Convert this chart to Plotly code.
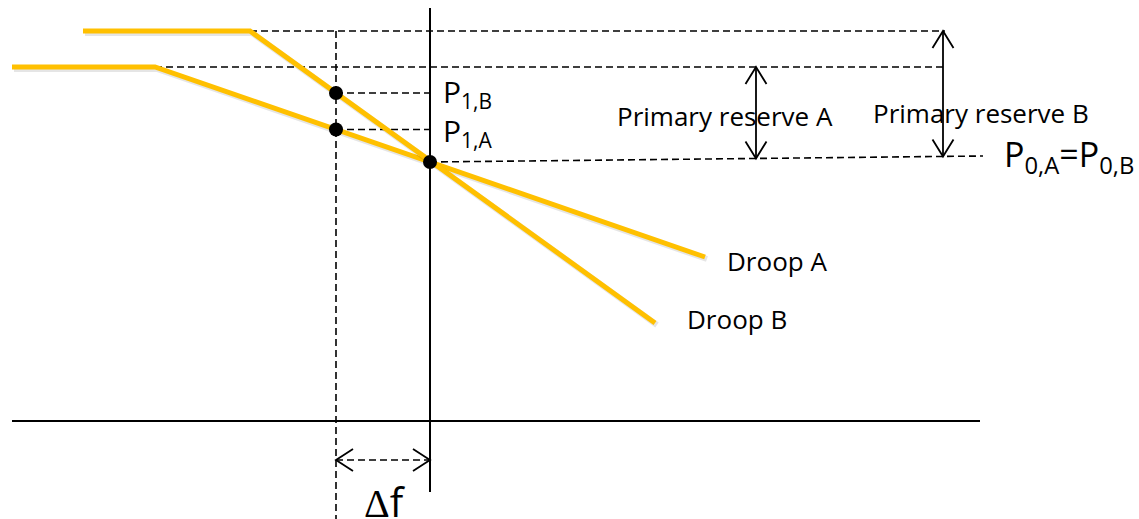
import numpy as np
import plotly.graph_objects as go

# Diagram units: f measured from the nominal frequency (0 on the P axis),
# P measured upward from the f axis.
droop_a_f = [-418, -275, 275]
droop_a_p = [354, 354, 164]
droop_b_f = [-347, -180, 225]
droop_b_p = [390, 390, 98]

f_nominal = 0
f_deviated = -94
p0 = 259
p0_right = 265          # right end of the P0 guide line
p_max_a = 354
p_max_b = 390

f_axis_f = [-418, 550]
p_axis_p = [-71, 413]

reserve_a_f = 326
reserve_b_f = 513
guide_right = 515
p0_guide_right = 553
df_arrow_p = -39
guide_bottom = -98

GOLD = "#FFC000"
BLACK = "#000000"
FONT = "Open Sans, Noto Sans, sans-serif"

p1_a = float(np.interp(f_deviated, droop_a_f, droop_a_p))
p1_b = float(np.interp(f_deviated, droop_b_f, droop_b_p))

fig = go.Figure()


def seg(xs, ys, color=BLACK, width=1.6, dash=None):
    fig.add_trace(go.Scatter(
        x=xs, y=ys, mode="lines", hoverinfo="skip", showlegend=False,
        line=dict(color=color, width=width, dash=dash)))


def chevron(tip_x, tip_y, dx, dy, length=17, half=10.5):
    # open V arrowhead pointing along (dx, dy)
    n = np.hypot(dx, dy)
    ux, uy = dx / n, dy / n
    px, py = -uy, ux
    bx, by = tip_x - ux * length, tip_y - uy * length
    seg([bx + px * half, tip_x, bx - px * half],
        [by + py * half, tip_y, by - py * half], width=1.8)


DASH = "7px,4px"

# dashed guide lines
seg([droop_b_f[1], guide_right], [p_max_b, p_max_b], dash=DASH)
seg([droop_a_f[1], guide_right], [p_max_a, p_max_a], dash=DASH)
seg([f_deviated, f_nominal], [p1_b, p1_b], dash=DASH)
seg([f_deviated, f_nominal], [p1_a, p1_a], dash=DASH)
seg([f_nominal, p0_guide_right], [p0, p0_right], dash=DASH)
seg([f_deviated, f_deviated], [p_max_b, guide_bottom], dash=DASH)

# axes
seg(f_axis_f, [0, 0], width=2)
seg([f_nominal, f_nominal], p_axis_p, width=2)

# droop characteristics
for fx, py in ((droop_a_f, droop_a_p), (droop_b_f, droop_b_p)):
    fig.add_trace(go.Scatter(
        x=[v + 2 for v in fx], y=[v - 2 for v in py], mode="lines",
        hoverinfo="skip", showlegend=False,
        line=dict(color="rgba(0,0,0,0.10)", width=6)))
    seg(fx, py, color=GOLD, width=5)

# reserve arrows
p0_at_a = p0 + (p0_right - p0) * reserve_a_f / p0_guide_right
p0_at_b = p0 + (p0_right - p0) * reserve_b_f / p0_guide_right
seg([reserve_a_f, reserve_a_f], [p_max_a, p0_at_a], width=1.8)
chevron(reserve_a_f, p_max_a, 0, 1)
chevron(reserve_a_f, p0_at_a, 0, -1)
seg([reserve_b_f, reserve_b_f], [p_max_b, p0_at_b], width=1.8)
chevron(reserve_b_f, p_max_b, 0, 1)
chevron(reserve_b_f, p0_at_b, 0, -1)

# frequency deviation arrow
seg([f_deviated, f_nominal], [df_arrow_p, df_arrow_p], dash=DASH)
chevron(f_deviated, df_arrow_p, -1, 0, length=17, half=11)
chevron(f_nominal, df_arrow_p, 1, 0, length=17, half=11)

# operating points
fig.add_trace(go.Scatter(
    x=[f_deviated, f_deviated, f_nominal], y=[p1_b, p1_a, p0],
    mode="markers", hoverinfo="skip", showlegend=False,
    marker=dict(color=BLACK, size=14)))


def label(x, y, text, size, xanchor="center"):
    fig.add_annotation(x=x, y=y, text=text, showarrow=False,
                       xanchor=xanchor, yanchor="middle",
                       font=dict(family=FONT, size=size, color=BLACK))


label(11, 328, "P<sub>1,B</sub>", 30, "left")
label(11, 289, "P<sub>1,A</sub>", 30, "left")
label(295, 305, "Primary reserve A", 26)
label(551, 308, "Primary reserve B", 26)
label(572, 265, "P<sub>0,A</sub>=P<sub>0,B</sub>", 34, "left")
label(347, 160, "Droop A", 26)
label(307, 102, "Droop B", 26)
label(-45, -80,
      "<span style='font-family:Liberation Serif'>Δ</span>f", 40)

fig.update_layout(
    width=1139, height=519,
    margin=dict(l=0, r=0, t=0, b=0),
    paper_bgcolor="white", plot_bgcolor="white",
    xaxis=dict(range=[-430, 709], visible=False, fixedrange=True),
    yaxis=dict(range=[-98, 421], visible=False, fixedrange=True),
)

fig.write_html("out.html")
